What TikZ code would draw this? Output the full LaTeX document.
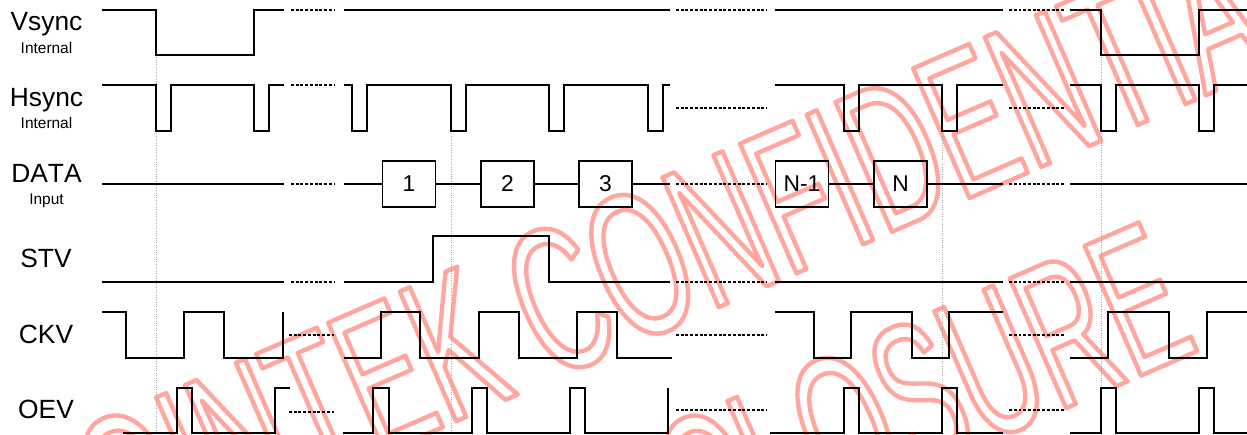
\documentclass[tikz,border=0pt]{standalone}
\usepackage{fontspec}
\setmainfont[Kerning=Off]{Liberation Sans}
\newfontfamily\markfont[FakeStretch=0.57]{Liberation Sans}
\newfontfamily\marklow[FakeStretch=0.55]{Liberation Sans}
\usetikzlibrary{positioning}

\newcommand{\outlinetext}[1]{\special{pdf:code q 1 Tr 2.5 w 1 j 1 J 1 0.655 0.62 RG}#1\special{pdf:code Q}}

\begin{document}
\begin{tikzpicture}[
  x=0.02cm, y=-0.02cm,
  wave/.style={line width=0.95pt, line join=miter},
  gap/.style={line width=0.95pt, dash pattern=on 1.7pt off 1pt},
  guide/.style={gray!70, line width=0.35pt, densely dotted},
  signame/.style={anchor=base, font=\fontsize{15}{15}\selectfont, inner sep=0},
  subname/.style={anchor=base, font=\fontsize{8.8}{9}\selectfont, inner sep=0},
  databox/.style={draw, line width=0.95pt, minimum width=1.06cm, minimum height=0.91cm, inner sep=0, font=\fontsize{13}{13}\selectfont},
  stamp/.style={inner sep=0, rotate=23.5}
]
\useasboundingbox (0,0) rectangle (1247,434);
\clip (0,0) rectangle (1247,434);

% watermark
\node[stamp, anchor=base west, font=\markfont\fontsize{117}{117}\selectfont] (stampA) at (118.7,568) {\outlinetext{OINTEK CONFIDENTIAL}};
\node[stamp, anchor=base east, font=\marklow\fontsize{117}{117}\selectfont] (stampB) at (1202,349) {\outlinetext{DISCLOSURE}};

% guides
\draw[guide] (156,55) -- (156,434);
\draw[guide] (451,131) -- (451,434);
\draw[guide] (942,131) -- (942,434);
\draw[guide] (1101,55) -- (1101,434);

% labels
\node[signame] (vsync) at (46.5,30.7) {Vsync};
\node[subname] (vsyncsub) at (46.5,53.3) {Internal};
\node[signame] (hsync) at (46.5,106) {Hsync};
\node[subname] (hsyncsub) at (46.5,128.7) {Internal};
\node[signame] (datain) at (46.5,182.3) {DATA};
\node[subname] (datasub) at (46.5,204) {Input};
\node[signame] (stv) at (46,267.7) {STV};
\node[signame] (ckv) at (46,343) {CKV};
\node[signame] (oev) at (46,418) {OEV};

% Vsync
\draw[wave] (102,10) -- (156,10) -- (156,55) -- (254,55) -- (254,10) -- (284,10);
\draw[wave] (344,10) -- (670,10);
\draw[wave] (775,10) -- (1003,10);
\draw[wave] (1070,10) -- (1101,10) -- (1101,55) -- (1199,55) -- (1199,10) -- (1247,10);
\draw[gap] (291,10) -- (335,10);
\draw[gap] (676,10) -- (767,10);
\draw[gap] (1009,10) -- (1065,10);

% Hsync
\draw[wave] (102,85) -- (156,85) -- (156,131) -- (171,131) -- (171,85) -- (254,85) -- (254,131) -- (269,131) -- (269,85) -- (284,85);
\draw[wave] (344,85) -- (352,85) -- (352,131) -- (367,131) -- (367,85) -- (451,85) -- (451,131) -- (466,131) -- (466,85) -- (549,85) -- (549,131) -- (564,131) -- (564,85) -- (648,85) -- (648,131) -- (663,131) -- (663,85) -- (670,85);
\draw[wave] (775,85) -- (844,85) -- (844,131) -- (859,131) -- (859,85) -- (942,85) -- (942,131) -- (957,131) -- (957,85) -- (1003,85);
\draw[wave] (1070,85) -- (1101,85) -- (1101,131) -- (1116,131) -- (1116,85) -- (1199,85) -- (1199,131) -- (1214,131) -- (1214,85) -- (1247,85);
\draw[gap] (291,85) -- (335,85);
\draw[gap] (676,108) -- (767,108);
\draw[gap] (1009,108) -- (1065,108);

% DATA
\node[databox] (box1) at (409,184) {1};
\node[databox] (box2) at (507.5,184) {2};
\node[databox] (box3) at (605.5,184) {3};
\node[databox] (boxm) at (802,184) {N-1};
\node[databox] (boxn) at (900.5,184) {N};
\coordinate (datastart) at (344,184);
\coordinate (dataend) at (670,184);
\coordinate (lastend) at (1003,184);
\draw[wave] (102,184) -- (284,184);
\draw[wave] (datastart) -- (box1);
\draw[wave] (box1) -- (box2);
\draw[wave] (box2) -- (box3);
\draw[wave] (box3) -- (dataend);
\draw[wave] (boxm) -- (boxn);
\draw[wave] (boxn) -- (lastend);
\draw[wave] (1070,184) -- (1247,184);
\draw[gap] (291,184) -- (335,184);
\draw[gap] (676,184) -- (767,184);
\draw[gap] (1009,184) -- (1065,184);

% STV
\draw[wave] (102,282) -- (284,282);
\draw[wave] (344,282) -- (433,282) -- (433,236) -- (549,236) -- (549,282) -- (670,282);
\draw[wave] (775,282) -- (1003,282);
\draw[wave] (1070,282) -- (1247,282);
\draw[gap] (291,282) -- (335,282);
\draw[gap] (676,282) -- (767,282);
\draw[gap] (1009,282) -- (1065,282);

% CKV
\draw[wave] (102,312) -- (126,312) -- (126,358) -- (184,358) -- (184,312) -- (224,312) -- (224,358) -- (283,358) -- (283,312);
\draw[wave] (344,358) -- (381,358) -- (381,312) -- (420,312) -- (420,358) -- (479,358) -- (479,312) -- (519,312) -- (519,358) -- (577,358) -- (577,312) -- (617,312) -- (617,358) -- (672,358);
\draw[wave] (775,312) -- (814,312) -- (814,358) -- (851,358) -- (851,312) -- (912,312) -- (912,358) -- (949,358) -- (949,312) -- (1003,312);
\draw[wave] (1070,358) -- (1108,358) -- (1108,312) -- (1169,312) -- (1169,358) -- (1207,358) -- (1207,312) -- (1247,312);
\draw[gap] (289,335) -- (334,335);
\draw[gap] (676,335) -- (767,335);
\draw[gap] (1009,335) -- (1065,335);

% OEV
\draw[wave] (123,433) -- (177,433) -- (177,388) -- (192,388) -- (192,433) -- (275,433) -- (275,388) -- (290,388);
\draw[wave] (343,433) -- (373,433) -- (373,388) -- (389,388) -- (389,433) -- (472,433) -- (472,388) -- (487,388) -- (487,433) -- (570,433) -- (570,388) -- (585,388) -- (585,433) -- (668,433) -- (668,388);
\draw[wave] (770,433) -- (844,433) -- (844,388) -- (859,388) -- (859,433) -- (942,433) -- (942,388) -- (957,388) -- (957,433) -- (1003,433);
\draw[wave] (1070,433) -- (1101,433) -- (1101,388) -- (1116,388) -- (1116,433) -- (1199,433) -- (1199,388) -- (1214,388) -- (1214,433) -- (1247,433);
\draw[gap] (289,412) -- (334,412);
\draw[gap] (676,410) -- (767,410);
\draw[gap] (1009,410) -- (1065,410);
\end{tikzpicture}
\end{document}
